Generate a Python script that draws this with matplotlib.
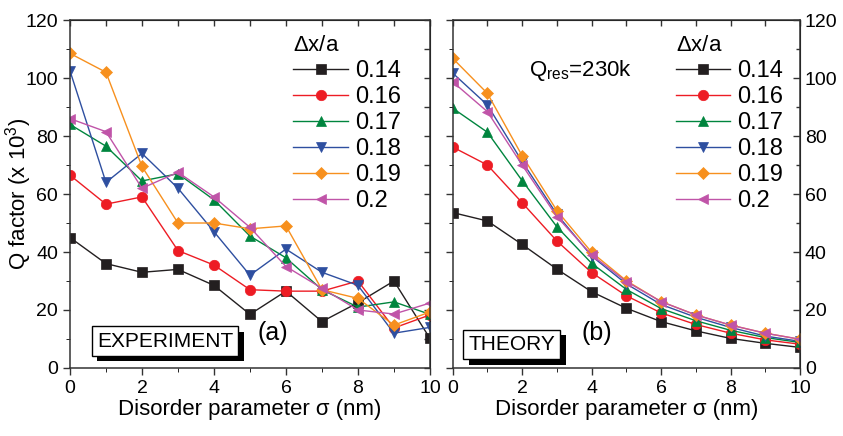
import numpy as np
import matplotlib
matplotlib.use("Agg")
import matplotlib.pyplot as plt
import matplotlib.patheffects as pe

plt.rcParams['font.family'] = ['Liberation Sans', 'DejaVu Sans']
plt.rcParams['mathtext.fontset'] = 'custom'
plt.rcParams['mathtext.rm'] = 'Liberation Sans'
plt.rcParams['mathtext.it'] = 'Liberation Sans:italic'

# disorder parameter sigma (nm)
sigma = np.arange(0, 11)
labels = ['0.14', '0.16', '0.17', '0.18', '0.19', '0.2']

# measured Q (x 10^3)
exp_014 = [45, 36, 33, 34, 28.5, 18.5, 26.5, 16, 22.5, 30, 10.2]
exp_016 = [66.5, 56.5, 59, 40.5, 35.5, 27, 26.5, 26.5, 30, 13.8, 18.3]
exp_017 = [84, 76.5, 64.5, 67, 58, 45.5, 38, 27, 21, 22.8, 18.5]
exp_018 = [102.5, 64, 74, 62, 47, 32, 41, 33, 28.5, 12, 14]
exp_019 = [108.5, 102, 69.5, 50, 50, 48, 49, 27, 24, 14.8, 19.3]
exp_020 = [86, 81.5, 62, 67.5, 59, 48.5, 35, 27.5, 20, 18.6, 22.4]

# simulated Q (x 10^3), Q_res = 230k
th_014 = [53.6, 50.7, 42.6, 34.1, 26.3, 20.6, 16, 12.8, 10.2, 8.5, 7.1]
th_016 = [76.2, 70, 57, 43.8, 32.9, 24.9, 19, 15, 12, 9.7, 8.2]
th_017 = [89.6, 81.3, 64.6, 48.7, 36.1, 27.1, 20.5, 16.3, 13, 10.5, 8.8]
th_018 = [101.7, 90.7, 71.2, 53, 38.6, 29, 21.9, 17.5, 14, 11, 9.2]
th_019 = [106.8, 94.7, 73.2, 54.3, 39.9, 30.1, 22.9, 18.3, 14.8, 12, 9.9]
th_020 = [98.7, 88.4, 70, 52.2, 39, 29.8, 22.9, 18.3, 14.8, 12, 9.9]

exp_data = [exp_014, exp_016, exp_017, exp_018, exp_019, exp_020]
th_data = [th_014, th_016, th_017, th_018, th_019, th_020]

colors = ['#231f20', '#ed1c24', '#00853e', '#2e4fa0', '#f7901e', '#c054a8']
markers = ['s', 'o', '^', 'v', 'D', '<']
msizes = [6.5, 7.5, 7.5, 7.5, 6.5, 7.5]

fig = plt.figure(figsize=(8.43, 4.36), dpi=100)
ax1 = fig.add_axes([0.083, 0.156, 0.427, 0.798])
ax2 = fig.add_axes([0.537, 0.156, 0.412, 0.798])


def draw_panel(ax, data, leg_x):
    for d, c, m, s, lab in zip(data, colors, markers, msizes, labels):
        ax.plot(sigma, d, color=c, marker=m, ms=s, lw=1.0, label=lab,
                markeredgewidth=0.5, markeredgecolor=c)
    ax.set_xlim(0, 10)
    ax.set_ylim(0, 120)
    ax.set_xticks(range(0, 11, 2))
    ax.set_xticks(range(0, 11), minor=True)
    ax.set_yticks(range(0, 121, 20))
    ax.set_yticks(range(0, 121, 10), minor=True)
    ax.tick_params(labelsize=14, width=1, color='#333333')
    ax.tick_params(which='major', length=5)
    ax.tick_params(which='minor', length=3)
    ax.set_xlabel('Disorder parameter σ (nm)', fontsize=16)
    ax.xaxis.set_label_coords(0.5, -0.09)
    for sp in ax.spines.values():
        sp.set_linewidth(1.1)
        sp.set_color('#333333')
    # mirrored ticks on top point inward
    sec = ax.secondary_xaxis('top')
    sec.set_xticks(range(0, 11))
    sec.tick_params(direction='in', length=4, labeltop=False, width=1, color='#333333')
    leg = ax.legend(loc='upper left', bbox_to_anchor=(leg_x, 1.005), frameon=False,
                    fontsize=17, title=r'$\Delta$x/a', title_fontsize=16,
                    handlelength=2.3, handletextpad=0.3, labelspacing=0.17,
                    borderpad=0.2, alignment='left')
    return leg


def label_box(ax, x, y, txt):
    t = ax.text(x, y, txt, transform=ax.transAxes, fontsize=15, va='bottom', ha='left',
                bbox=dict(boxstyle='square,pad=0.25', fc='white', ec='black', lw=1))
    t.get_bbox_patch().set_path_effects([
        pe.SimplePatchShadow(offset=(4, -4), shadow_rgbFace='black', alpha=1.0),
        pe.Normal()])


draw_panel(ax1, exp_data, 0.575)
ax1.set_ylabel(r'Q factor (x 10$^3$)', fontsize=16)
ax1.yaxis.set_label_coords(-0.1, 0.5)
ax1.tick_params(axis='y', which='both', direction='out', right=False)
sec1 = ax1.secondary_yaxis('right')
sec1.set_yticks(range(0, 121, 10))
sec1.tick_params(direction='in', length=4, labelright=False, width=1, color='#333333')
label_box(ax1, 0.075, 0.05, 'EXPERIMENT')
ax1.text(0.52, 0.1, '(a)', transform=ax1.transAxes, fontsize=18, va='center')

draw_panel(ax2, th_data, 0.595)
ax2.tick_params(axis='y', which='both', direction='out', labelleft=False)
sec2 = ax2.secondary_yaxis('right')
sec2.set_yticks(range(0, 121, 20))
sec2.set_yticks(range(0, 121, 10), minor=True)
sec2.tick_params(which='both', direction='in', labelsize=14, width=1, color='#333333')
sec2.tick_params(which='major', length=5)
sec2.tick_params(which='minor', length=3)
label_box(ax2, 0.045, 0.04, 'THEORY')
ax2.text(0.37, 0.1, '(b)', transform=ax2.transAxes, fontsize=18, va='center')
ax2.text(0.22, 0.84, r'Q$_{\mathrm{res}}$=230k', transform=ax2.transAxes, fontsize=16)

fig.savefig('out.png', dpi=100)
